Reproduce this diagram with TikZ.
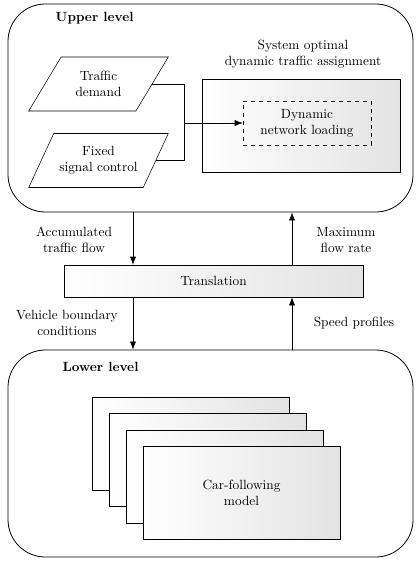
\documentclass[tikz,border=0pt]{standalone}
\usetikzlibrary{arrows.meta,shapes.geometric}
\begin{document}
\begin{tikzpicture}[x=0.75pt,y=-0.75pt,
	level/.style={draw,rounded corners=28pt,minimum width=303.75pt,line width=0.6pt},
	para/.style={draw,trapezium,trapezium left angle=52,trapezium right angle=128,trapezium stretches=true,minimum width=105pt,minimum height=40.5pt,align=center,inner sep=0pt},
	shadebox/.style={draw,left color=white,right color=gray!22,align=center},
	arr/.style={-{Latex[length=6pt,width=4.5pt]}}]
	\useasboundingbox (0,0) rectangle (415,561);
	% the two levels
	\node[level,minimum height=156pt] (upper) at (210.5,108) {};
	\node[level,minimum height=155.25pt] (lower) at (210.5,453.5) {};
	\node[anchor=west,font=\bfseries] (uptitle) at (51,18) {Upper level};
	\node[anchor=west,font=\bfseries] (lowtitle) at (58,367) {Lower level};
	% upper level
	\node[para] (demand) at (98.5,84) {Traffic\\demand};
	\node[para] (signal) at (98.5,160.5) {Fixed\\signal control};
	\node[shadebox,minimum width=148.5pt,minimum height=69.75pt] (dta) at (301,125.5) {};
	\node[align=center] (dtatext) at (303,54) {System optimal\\dynamic traffic assignment};
	\node[draw,dashed,align=center,minimum width=96pt,minimum height=33pt] (dnl) at (307,123) {Dynamic\\network loading};
	\coordinate (merge) at (184,123);
	\draw (demand.east) -| (merge);
	\draw (signal.east) -| (merge);
	\draw[arr] (merge) -- (dnl.west);
	% translation
	\node[shadebox,minimum width=224.25pt,minimum height=24pt] (trans) at (213.5,281) {Translation};
	\coordinate (xl) at (133,0);
	\coordinate (xr) at (292,0);
	\draw[arr] (upper.south -| xl) -- (trans.north -| xl);
	\draw[arr] (trans.south -| xl) -- (lower.north -| xl);
	\draw[arr] (lower.north -| xr) -- (trans.south -| xr);
	\draw[arr] (trans.north -| xr) -- (upper.south -| xr);
	\node[align=center] (acc) at (74,240) {Accumulated\\traffic flow};
	\node[align=center] (maxflow) at (346,240) {Maximum\\flow rate};
	\node[align=center] (vbc) at (67,323) {Vehicle boundary\\conditions};
	\node[align=center] (speed) at (354,323) {Speed profiles};
	% lower level
	\foreach \i in {0,...,3}
		\node[shadebox,minimum width=147.75pt,minimum height=69.75pt] (cf\i) at (190.5+17*\i,443.5+16.5*\i) {};
	\node[align=center] (cftext) at (cf3) {Car-following\\model};
\end{tikzpicture}
\end{document}
